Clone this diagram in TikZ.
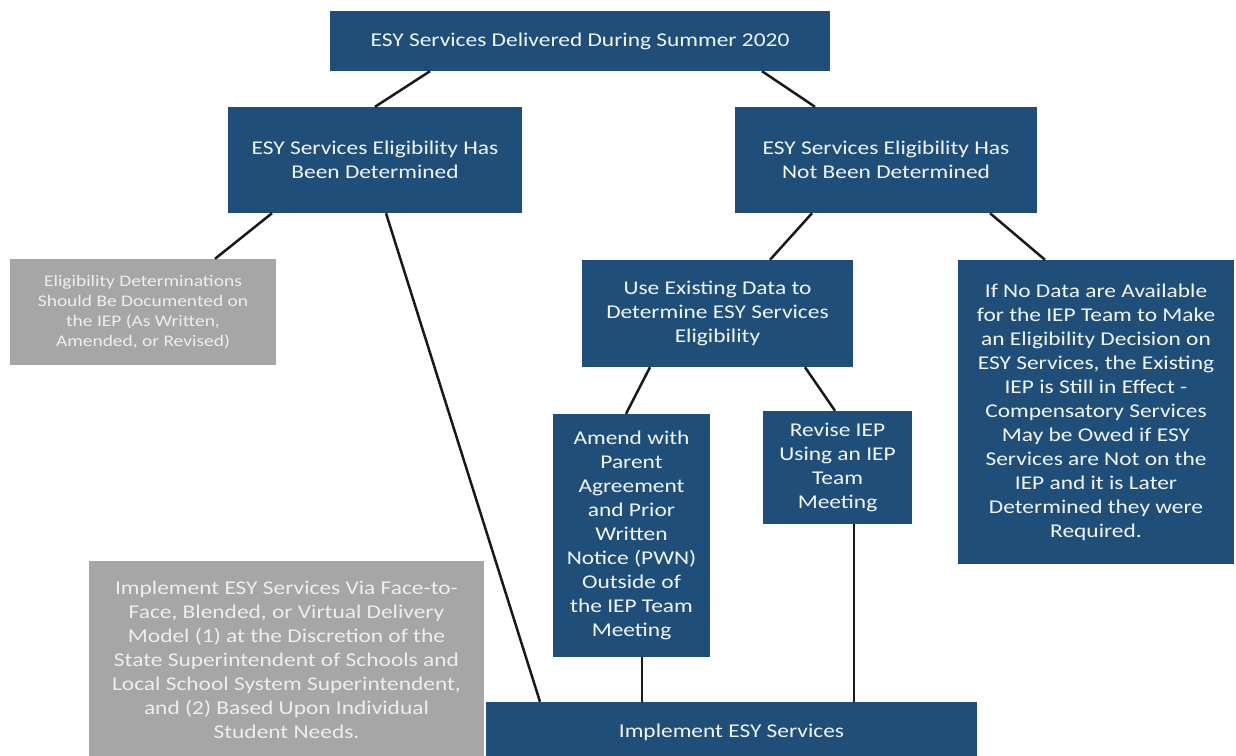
\documentclass[tikz,border=0pt]{standalone}
\usepackage{fontspec}
\setmainfont[FakeStretch=1.2]{Carlito}
\usetikzlibrary{calc}
\definecolor{blu}{HTML}{1F4E79}
\definecolor{gry}{HTML}{A6A6A6}
\definecolor{gtxt}{HTML}{EEEEEE}
\definecolor{btxt}{HTML}{F2F5FA}
\begin{document}
\begin{tikzpicture}[x=1pt,y=-1pt,
  bx/.style={fill=blu, text=btxt, inner sep=0pt, align=center, font=\fontsize{19.5}{24}\selectfont},
  gx/.style={fill=gry, text=gtxt, inner sep=0pt, align=center, font=\fontsize{19.5}{24}\selectfont},
  ln/.style={line width=2.5pt, black!90}]
\useasboundingbox (0,0) rectangle (1236,755);
\node[bx, minimum width=500, minimum height=60] (top) at (580,41) {ESY Services Delivered During Summer 2020};
\node[bx, minimum width=294, minimum height=106] (l1) at (375,160) {ESY Services Eligibility Has\\Been Determined};
\node[bx, minimum width=302, minimum height=106] (r1) at (886,160) {ESY Services Eligibility Has\\Not Been Determined};
\node[gx, minimum width=266, minimum height=106, font=\fontsize{16.2}{20.3}\selectfont] (g1) at (143,312) {Eligibility Determinations\\Should Be Documented on\\the IEP (As Written,\\Amended, or Revised)};
\node[bx, minimum width=271, minimum height=107] (use) at (717.5,313.5) {Use Existing Data to\\Determine ESY Services\\Eligibility};
\node[bx, minimum width=276, minimum height=304] (nod) at (1096,412) {If No Data are Available\\for the IEP Team to Make\\an Eligibility Decision on\\ESY Services, the Existing\\IEP is Still in Effect -\\Compensatory Services\\May be Owed if ESY\\Services are Not on the\\IEP and it is Later\\Determined they were\\Required.};
\node[bx, minimum width=157, minimum height=243] (amd) at (631.5,535.5) {Amend with\\Parent\\Agreement\\and Prior\\Written\\Notice (PWN)\\Outside of\\the IEP Team\\Meeting};
\node[bx, minimum width=149, minimum height=113] (rev) at (837.5,467.5) {Revise IEP\\Using an IEP\\Team\\Meeting};
\node[gx, minimum width=395, minimum height=198] (g2) at (286.5,660) {Implement ESY Services Via Face-to-\\Face, Blended, or Virtual Delivery\\Model (1) at the Discretion of the\\State Superintendent of Schools and\\Local School System Superintendent,\\and (2) Based Upon Individual\\Student Needs.};
\node[bx, minimum width=491, minimum height=60] (imp) at (731.5,732) {Implement ESY Services};
\draw[ln] ([xshift=-150pt]top.south) -- (l1.north);
\draw[ln] ([xshift=182pt]top.south) -- ([xshift=-71pt]r1.north);
\draw[ln] ([xshift=-103pt]l1.south) -- ([xshift=72pt]g1.north);
\draw[ln] ([xshift=11pt]l1.south) -- ([xshift=-191.5pt]imp.north);
\draw[ln] ([xshift=-74pt]r1.south) -- ([xshift=52.5pt]use.north);
\draw[ln] ([xshift=104pt]r1.south) -- ([xshift=-51pt]nod.north);
\draw[ln] ([xshift=-67.5pt]use.south) -- ([xshift=-5.5pt]amd.north);
\draw[ln] ([xshift=87.5pt]use.south) -- ([xshift=-2.5pt]rev.north);
\draw[ln] ([xshift=10.5pt]amd.south) -- ([xshift=-89.5pt]imp.north);
\draw[ln] ([xshift=16.5pt]rev.south) -- ([xshift=122.5pt]imp.north);
\end{tikzpicture}
\end{document}
